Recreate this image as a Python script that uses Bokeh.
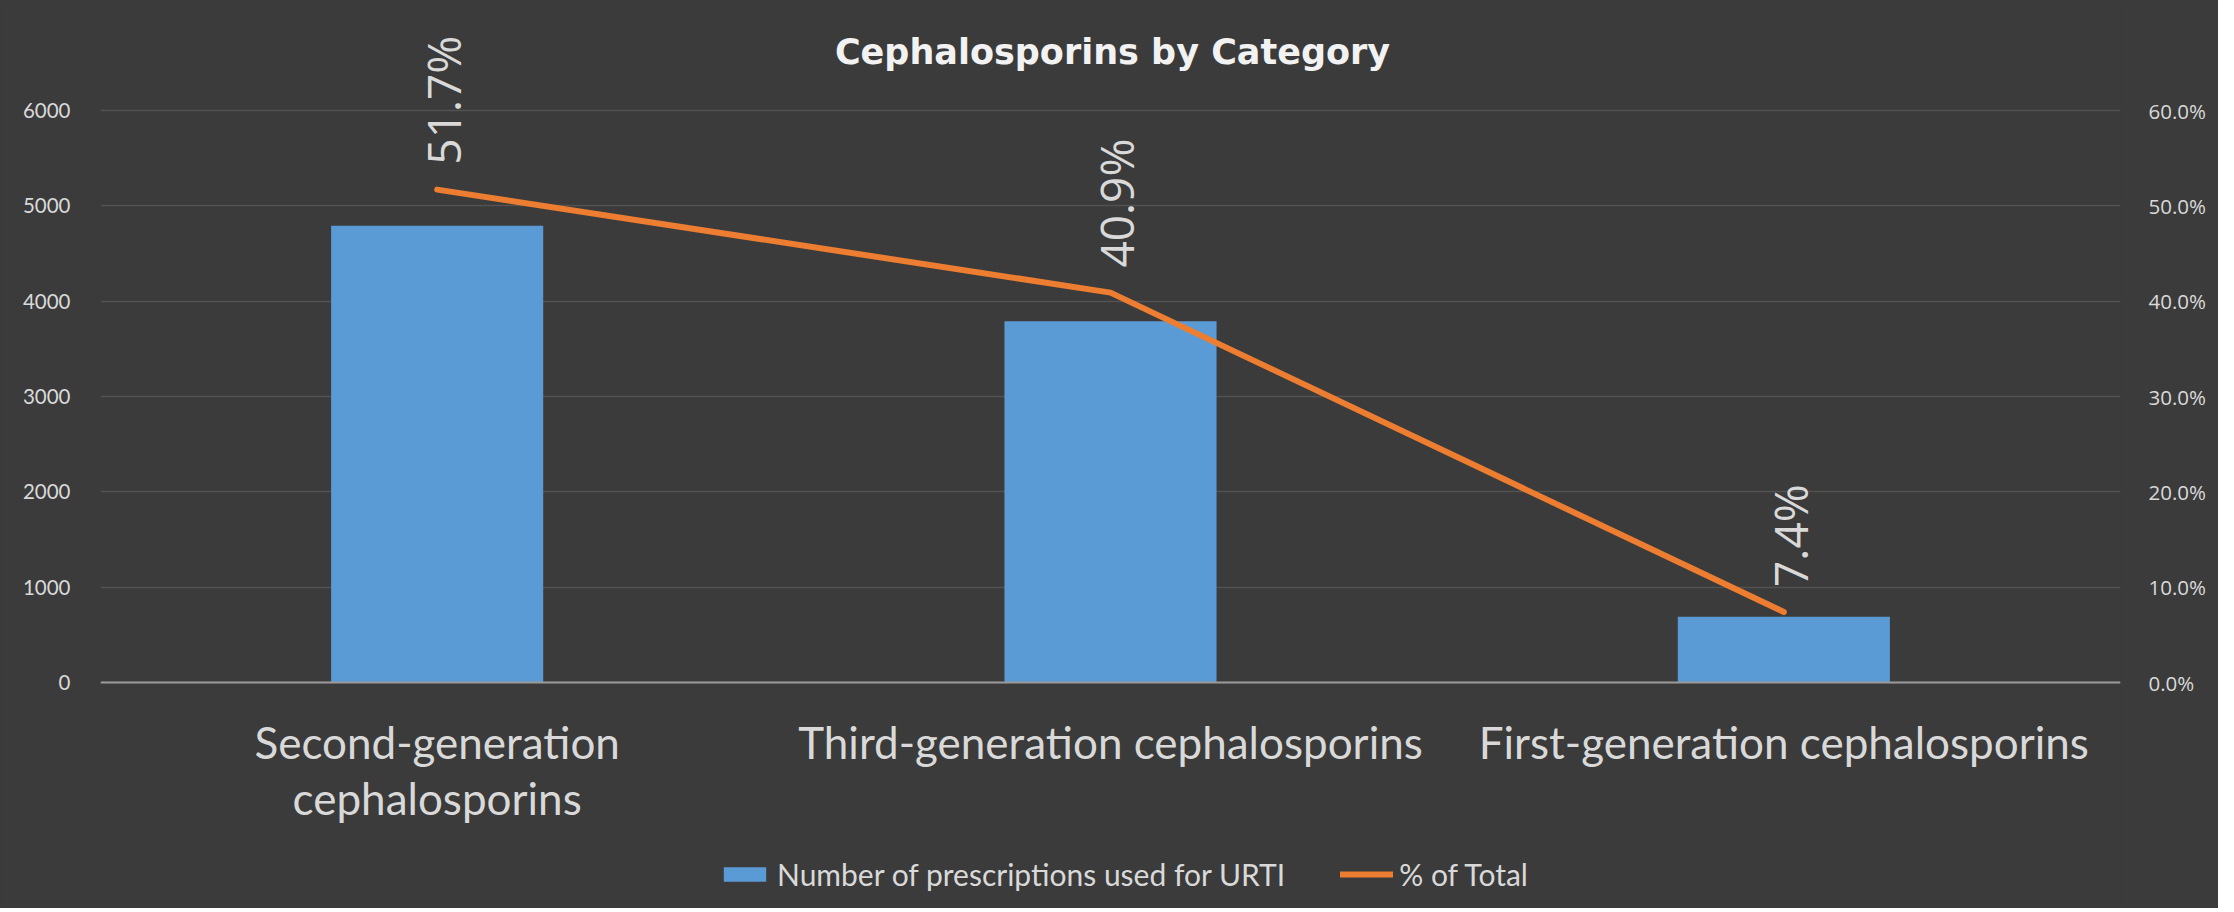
import numpy as np
from bokeh.plotting import figure
from bokeh.models import (Range1d, LinearAxis, FactorRange, ColumnDataSource, Legend,
                          LegendItem, NumeralTickFormatter, FixedTicker, LabelSet, Label)
from bokeh.embed import file_html
from bokeh.resources import INLINE
from bokeh.core.properties import value

# ---- data ----
categories = ["Second-generation cephalosporins",
              "Third-generation cephalosporins",
              "First-generation cephalosporins"]
prescriptions = [4790, 3790, 690]
pct_of_total = [0.517, 0.409, 0.074]
pct_labels = ["51.7%", "40.9%", "7.4%"]
left_ticks = [0, 1000, 2000, 3000, 4000, 5000, 6000]
right_ticks = [0.0, 0.1, 0.2, 0.3, 0.4, 0.5, 0.6]
title_text = "Cephalosporins by Category"
bar_series = "Number of prescriptions used for URTI"
line_series = "% of Total"

# the first category label wraps onto two lines in the chart
wrapped = {categories[0]: "Second-generation\ncephalosporins"}
factors = [wrapped.get(c, c) for c in categories]

BG = "#3b3b3b"
TXT = "#d9d9d9"

src = ColumnDataSource(dict(cat=factors, count=prescriptions,
                            pct=pct_of_total, lab=pct_labels))

# ---- layout (pixels) ----
W, H = 2218, 908
ZERO_PX = 682          # vertical pixel of value 0
PX_PER_1000 = 95.33    # 1000 prescriptions in pixels
Y_MAX = ZERO_PX / PX_PER_1000 * 1000
Y_MIN = -(H - ZERO_PX) / PX_PER_1000 * 1000
SCALE = 10000.0        # 6000 prescriptions <-> 60 %

p = figure(width=W, height=H,
           x_range=FactorRange(*factors), y_range=Range1d(Y_MIN, Y_MAX),
           output_backend="svg", toolbar_location=None,
           min_border_left=100, min_border_right=W - 2120,
           min_border_top=0, min_border_bottom=0,
           background_fill_color=BG, border_fill_color=BG,
           outline_line_color=None)
p.styles = {"background-color": BG}
p.extra_y_ranges = {"pct": Range1d(Y_MIN / SCALE, Y_MAX / SCALE)}

# left axis
ya = p.yaxis[0]
ya.ticker = FixedTicker(ticks=left_ticks)
ya.axis_line_color = None
ya.major_tick_line_color = None
ya.minor_tick_line_color = None
ya.major_label_text_font = "Lato"
ya.major_label_text_font_size = "20.5px"
ya.major_label_text_color = TXT
ya.major_label_standoff = 24

# right axis
ra = LinearAxis(y_range_name="pct", ticker=FixedTicker(ticks=right_ticks),
                formatter=NumeralTickFormatter(format="0.0%"))
ra.axis_line_color = None
ra.major_tick_line_color = None
ra.minor_tick_line_color = None
ra.major_label_text_font = "Open Sans"
ra.major_label_text_font_size = "20.5px"
ra.major_label_text_color = TXT
ra.major_label_standoff = 22
p.add_layout(ra, "right")

# x axis, pinned at value 0
xa = p.xaxis[0]
xa.fixed_location = 0
xa.axis_line_color = "#9a9a9a"
xa.axis_line_width = 2
xa.major_tick_line_color = None
xa.minor_tick_line_color = None
xa.major_label_text_font = "Lato"
xa.major_label_text_font_size = "44px"
xa.major_label_text_color = TXT
xa.major_label_text_line_height = 1.08
xa.major_label_standoff = 27

# grid
p.xgrid.visible = False
p.ygrid.ticker = FixedTicker(ticks=left_ticks)
p.ygrid.grid_line_color = "white"
p.ygrid.grid_line_alpha = 0.12
p.ygrid.grid_line_width = 1.5

bars = p.vbar(x="cat", top="count", width=0.315, source=src,
              fill_color="#5b9bd5", line_color=None)
line = p.line(x="cat", y="pct", y_range_name="pct", source=src,
              line_color="#ed7d31", line_width=6, line_cap="round", line_join="round")

labels = LabelSet(x="cat", y="pct", text="lab", y_range_name="pct", source=src,
                  angle=np.pi / 2, text_align="left", text_baseline="middle",
                  text_font=value("Open Sans"), text_font_size="46px",
                  text_color=TXT, x_offset=6, y_offset=25)
p.add_layout(labels)

# chart title
title = Label(x=1012, y=H - 51, x_units="screen", y_units="screen", text=title_text,
              text_align="center", text_baseline="middle",
              text_font="DejaVu Sans", text_font_style="bold",
              text_font_size="35px", text_color="#f2f2f2")
p.add_layout(title)

legend = Legend(items=[LegendItem(label=bar_series, renderers=[bars]),
                       LegendItem(label=line_series, renderers=[line])],
                orientation="horizontal", location=(618, 16),
                glyph_width=53, glyph_height=18, label_standoff=6, spacing=55,
                padding=0, margin=0, background_fill_alpha=0, border_line_color=None,
                label_text_font="Lato", label_text_font_size="30px",
                label_text_color=TXT)
p.add_layout(legend)

open("out.html", "w").write(file_html(p, INLINE))
